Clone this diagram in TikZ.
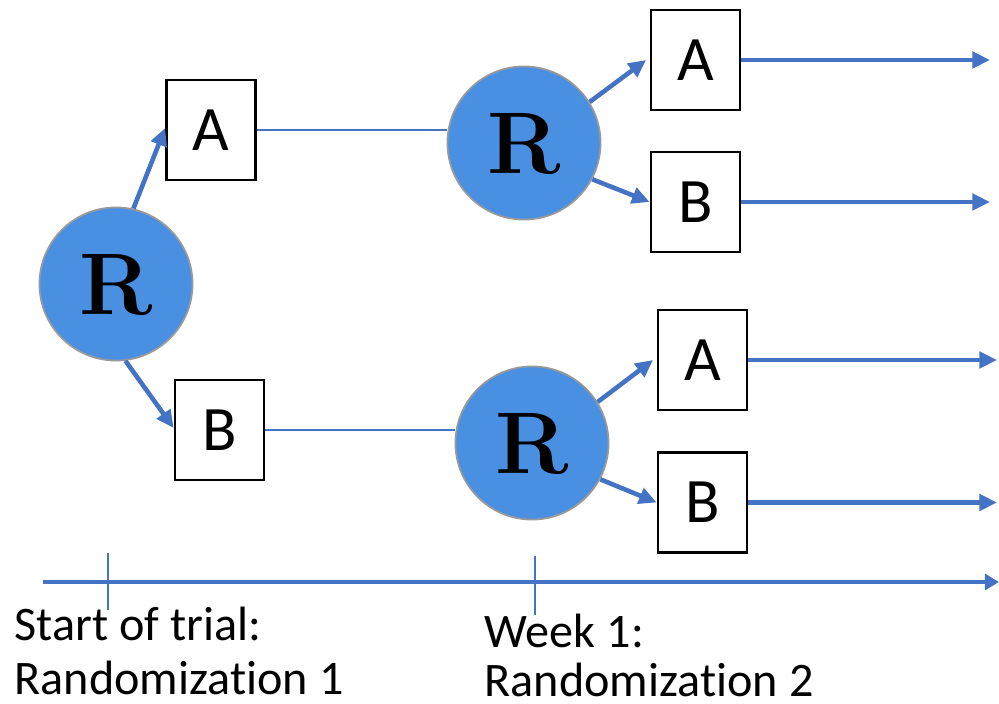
\documentclass[tikz,border=0pt]{standalone}
\usepackage[no-math]{fontspec}
\setmainfont{Carlito}[Ligatures={NoCommon,NoContextual}]
\usetikzlibrary{arrows.meta}
\definecolor{flow}{RGB}{68,114,196}
\definecolor{rnd}{RGB}{74,144,226}
\begin{document}
\begin{tikzpicture}[x=0.01cm,y=-0.01cm,
  rnode/.style={circle,fill=rnd,draw=black!40,line width=0.5pt,minimum size=1.53cm,inner sep=0pt,
    font=\fontsize{25}{25}\selectfont},
  arm/.style={draw=black,line width=0.75pt,fill=white,minimum width=0.89cm,minimum height=1.0cm,inner sep=0pt,
    font=\fontsize{18}{18}\selectfont},
  branch/.style={flow,line width=1.3pt,-{Triangle[length=5pt,width=4.6pt]}},
  link/.style={flow,line width=0.6pt},
  onward/.style={flow,line width=1.3pt,-{Triangle[length=5pt,width=4.6pt]}},
  tick/.style={flow,line width=0.6pt},
  lbl/.style={anchor=base west,inner sep=0pt,font=\fontsize{13.7}{13.7}\selectfont}]
\useasboundingbox (0,0) rectangle (999,704);

% first randomization
\node[rnode] (r1) at (116,284) {$\mathbf{R}$};
\node[arm] (a1) at (211,130) {A};
\node[arm] (b1) at (219.5,430) {B};

% second randomizations
\node[rnode] (r2) at (524,143) {$\mathbf{R}$};
\node[rnode] (r3) at (532,443) {$\mathbf{R}$};
\node[arm] (a2) at (695.5,60) {A};
\node[arm] (b2) at (695.5,202) {B};
\node[arm] (a3) at (702.5,360) {A};
\node[arm] (b3) at (702.5,502.5) {B};

% arrow ends
\coordinate (ea2) at (990,60);
\coordinate (eb2) at (990,202);
\coordinate (ea3) at (997,360);
\coordinate (eb3) at (997,502.5);

\draw[branch] (r1.77) -- (a1.west |- 0,128);
\draw[branch] (r1.-83) -- (b1.west |- 0,428);
\draw[link] (a1.east) -- (r2.west |- a1.east);
\draw[link] (b1.east) -- (r3.west |- b1.east);
\draw[branch] (r2.32) -- ([xshift=-1pt]a2.west);
\draw[branch] (r2.-28) -- (b2.west);
\draw[branch] (r3.32) -- ([xshift=-1pt]a3.west);
\draw[branch] (r3.-28) -- (b3.west);
\draw[onward] (a2.east) -- (ea2);
\draw[onward] (b2.east) -- (eb2);
\draw[onward] (a3.east) -- (ea3);
\draw[onward] (b3.east) -- (eb3);

% time axis
\coordinate (t0) at (43,582);
\coordinate (t1) at (999,582);
\draw[flow,line width=1.4pt,-{Triangle[length=4pt,width=4.5pt]}] (t0) -- (t1);
\coordinate (k1a) at (108,553);
\coordinate (k1b) at (108,610);
\coordinate (k2a) at (535,556);
\coordinate (k2b) at (535,615);
\draw[tick] (k1a) -- (k1b);
\draw[tick] (k2a) -- (k2b);

\node[lbl] (s1) at (14,641) {Start of trial:};
\node[lbl] (s2) at (14,695) {Randomizat\kern0pt ion 1};
\node[lbl] (w1) at (484,648) {Week 1:};
\node[lbl] (w2) at (484,697) {Randomizat\kern0pt ion 2};
\end{tikzpicture}
\end{document}
